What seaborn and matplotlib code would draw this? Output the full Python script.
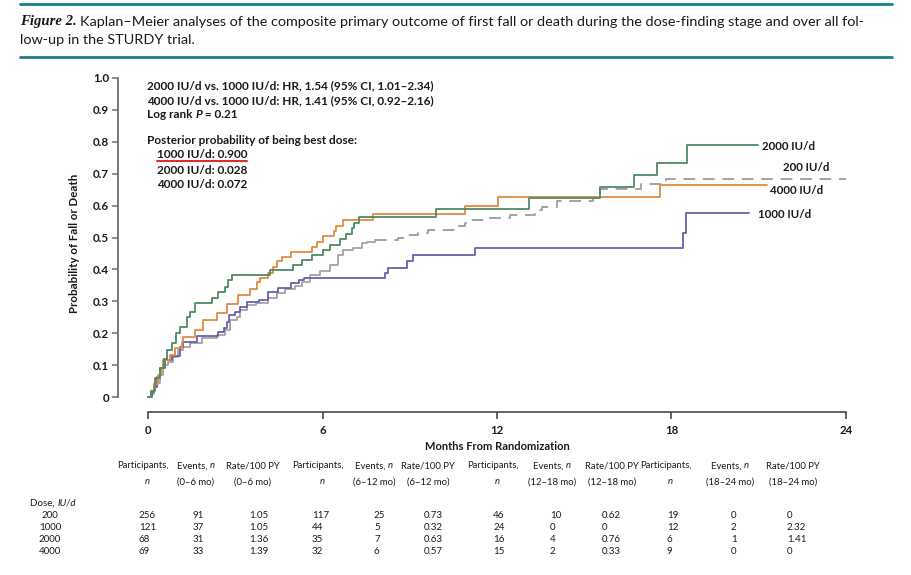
import matplotlib
matplotlib.use("Agg")
import matplotlib.pyplot as plt
from matplotlib import font_manager as fm
import seaborn as sns
import pandas as pd

# ---------------- data ----------------
t_200 = [0, 0.1, 0.2, 0.3, 0.4, 0.52, 0.7, 0.86, 1.03, 1.2, 1.45, 1.86, 2.37, 2.65, 2.82, 3.06,
         3.17, 3.4, 3.7, 4.13, 4.44, 4.7, 5.06, 5.3, 5.57, 5.9, 6.26, 6.54, 6.7, 7.05, 7.36, 7.54,
         7.8, 8.6, 8.95, 9.3, 9.64, 10.63, 10.9, 11.08, 11.67, 12.46, 13.3, 13.56, 14.07, 15.3,
         15.45, 15.55, 16.95, 17.8, 24.0]
p_200 = [0, 0.01, 0.03, 0.044, 0.07, 0.1, 0.11, 0.125, 0.147, 0.157, 0.17, 0.185, 0.194, 0.21,
         0.241, 0.251, 0.273, 0.288, 0.295, 0.31, 0.326, 0.339, 0.348, 0.36, 0.382, 0.395, 0.414,
         0.445, 0.461, 0.467, 0.483, 0.486, 0.492, 0.498, 0.508, 0.514, 0.523, 0.536, 0.545, 0.555,
         0.561, 0.571, 0.586, 0.596, 0.614, 0.627, 0.64, 0.652, 0.668, 0.683, 0.683]

t_1000 = [0, 0.15, 0.2, 0.3, 0.42, 0.6, 0.82, 1.1, 1.2, 1.68, 2.4, 2.6, 2.7, 2.8, 3.0, 3.17, 3.4,
          3.8, 4.13, 4.47, 4.9, 5.2, 5.35, 8.16, 8.26, 8.9, 9.1, 11.25, 18.4, 18.5, 20.65]
p_1000 = [0, 0.015, 0.03, 0.063, 0.09, 0.116, 0.128, 0.157, 0.172, 0.19, 0.204, 0.216, 0.235,
          0.257, 0.266, 0.282, 0.298, 0.304, 0.33, 0.341, 0.357, 0.367, 0.373, 0.389, 0.404, 0.426,
          0.445, 0.467, 0.514, 0.577, 0.577]

t_2000 = [0, 0.1, 0.24, 0.4, 0.55, 0.65, 0.83, 0.95, 1.1, 1.34, 1.45, 1.62, 2.2, 2.4, 2.65, 2.75,
          2.9, 4.2, 5.0, 5.3, 5.65, 6.0, 6.26, 6.6, 6.8, 7.0, 7.1, 7.27, 9.9, 13.1, 15.55, 16.7,
          17.5, 18.55, 20.96]
p_2000 = [0, 0.02, 0.06, 0.09, 0.12, 0.147, 0.169, 0.2, 0.22, 0.25, 0.267, 0.295, 0.31, 0.33,
          0.345, 0.367, 0.383, 0.398, 0.414, 0.43, 0.445, 0.46, 0.476, 0.495, 0.51, 0.53, 0.545,
          0.564, 0.589, 0.625, 0.658, 0.696, 0.733, 0.79, 0.79]

t_4000 = [0, 0.1, 0.2, 0.35, 0.45, 0.52, 0.76, 0.93, 1.17, 1.2, 1.62, 1.9, 2.37, 2.7, 3.1, 3.5,
          3.75, 3.85, 4.13, 4.3, 4.45, 4.6, 4.9, 5.65, 5.8, 6.0, 6.4, 6.45, 6.7, 7.75, 10.9, 12.05,
          17.6, 21.3]
p_4000 = [0, 0.02, 0.04, 0.069, 0.09, 0.116, 0.132, 0.153, 0.172, 0.188, 0.21, 0.241, 0.263, 0.29,
          0.32, 0.34, 0.36, 0.373, 0.389, 0.408, 0.426, 0.44, 0.455, 0.47, 0.486, 0.505, 0.52,
          0.536, 0.555, 0.574, 0.6, 0.627, 0.665, 0.665]

x_ticks = [0, 6, 12, 18, 24]
y_ticks = [0, 0.1, 0.2, 0.3, 0.4, 0.5, 0.6, 0.7, 0.8, 0.9, 1.0]
y_tick_labels = ["0", "0.1", "0.2", "0.3", "0.4", "0.5", "0.6", "0.7", "0.8", "0.9", "1.0"]

doses = ["200", "1000", "2000", "4000"]
participants_0_6 = ["256", "121", "68", "69"]
events_0_6 = ["91", "37", "31", "33"]
rate_0_6 = ["1.05", "1.05", "1.36", "1.39"]
participants_6_12 = ["117", "44", "35", "32"]
events_6_12 = ["25", "5", "7", "6"]
rate_6_12 = ["0.73", "0.32", "0.63", "0.57"]
participants_12_18 = ["46", "24", "16", "15"]
events_12_18 = ["10", "0", "4", "2"]
rate_12_18 = ["0.62", "0", "0.76", "0.33"]
participants_18_24 = ["19", "12", "6", "9"]
events_18_24 = ["0", "2", "1", "0"]
rate_18_24 = ["0", "2.32", "1.41", "0"]

# ---------------- style ----------------
sns.set_theme(style="ticks")
names = {f.name for f in fm.fontManager.ttflist}
MAIN = "Lato" if "Lato" in names else "DejaVu Sans"
COND = "Liberation Sans Narrow" if "Liberation Sans Narrow" in names else MAIN
plt.rcParams["font.family"] = [MAIN, "DejaVu Sans"]
WT = "bold"

W, H = 912, 575
def fx(px):
    return px / W
def fy(py):
    return 1 - py / H

GREEN = "#4f8a64"
ORANGE = "#e08b3e"
PURPLE = "#6a5fae"
GRAY = "#a3a3a3"
TEAL = "#1b7f88"
TXT = "#1a1a1a"

fig = plt.figure(figsize=(W / 100, H / 100), dpi=100)
renderer = fig.canvas.get_renderer()
ax = fig.add_axes([fx(148), fy(397), 698 / W, 319 / H])


def rich(px, py, parts, ha="left", **kw):
    """Draw consecutive text pieces (string, extra-style) starting/centred at pixel px."""
    arts = []
    for s, st in parts:
        a = fig.text(0, fy(py), s, va="center", ha="left", **{**kw, **st})
        arts.append(a)
    widths = [a.get_window_extent(renderer=renderer).width for a in arts]
    total = sum(widths)
    x = px - total / 2 if ha == "center" else px
    for a, w in zip(arts, widths):
        a.set_x(x / W)
        x += w
    return arts


def km(t, p):
    return pd.DataFrame({"t": t, "p": p})

common = dict(x="t", y="p", drawstyle="steps-post", estimator=None, sort=False,
              legend=False, ax=ax, clip_on=False)

d200 = km(t_200, p_200)
split = 32
sns.lineplot(data=d200.iloc[:split + 1], color=GRAY, lw=1.3, **common)
sns.lineplot(data=d200.iloc[split:], color=GRAY, lw=1.4, linestyle=(0, (6, 4)), **common)
sns.lineplot(data=km(t_1000, p_1000), color=PURPLE, lw=1.3, **common)
sns.lineplot(data=km(t_4000, p_4000), color=ORANGE, lw=1.3, **common)
sns.lineplot(data=km(t_2000, p_2000), color=GREEN, lw=1.3, **common)

ax.set_xlim(0, 24)
ax.set_ylim(0, 1)
ax.set_xticks(x_ticks)
ax.set_xticklabels([str(v) for v in x_ticks])
ax.set_yticks(y_ticks)
ax.set_yticklabels(y_tick_labels)
for s in ["top", "right"]:
    ax.spines[s].set_visible(False)
ax.spines["left"].set_position(("outward", 30 * 0.72))
ax.spines["bottom"].set_position(("outward", 15 * 0.72))
ax.spines["left"].set_color("#6e6e6e")
ax.spines["bottom"].set_color("#3a3a3a")
ax.spines["left"].set_linewidth(1.3)
ax.spines["bottom"].set_linewidth(1.1)
ax.tick_params(axis="y", length=4, width=1.1, color="#6e6e6e", pad=2.5, labelsize=8.4,
               labelcolor=TXT)
ax.tick_params(axis="x", length=5, width=1.1, color="#3a3a3a", pad=4, labelsize=8.2,
               labelcolor=TXT)
for lab in ax.get_xticklabels() + ax.get_yticklabels():
    lab.set_fontweight(WT)
ax.set_xlabel("")
ax.set_ylabel("")
ax.set_facecolor("none")

fig.text(fx(75), fy(243), "Probability of Fall or Death", rotation=90, ha="center",
         va="center", fontsize=8.3, fontweight=WT, color=TXT)
fig.text(fx(497), fy(446), "Months From Randomization", ha="center", va="center",
         fontsize=8.0, fontweight=WT, color=TXT)

# curve labels
lab = dict(fontsize=8.3, fontweight=WT, va="center", color=TXT)
ax.text(21.1, 0.784, "2000 IU/d", **lab)
ax.text(21.82, 0.718, "200 IU/d", **lab)
ax.text(21.4, 0.646, "4000 IU/d", **lab)
ax.text(20.99, 0.571, "1000 IU/d", **lab)

# annotations
ann = dict(fontsize=8.45, fontweight=WT, va="center", color=TXT)
fig.text(fx(147), fy(86), "2000 IU/d vs. 1000 IU/d: HR, 1.54 (95% CI, 1.01\u20132.34)", **ann)
fig.text(fx(147), fy(101), "4000 IU/d vs. 1000 IU/d: HR, 1.41 (95% CI, 0.92\u20132.16)", **ann)
rich(147, 115, [("Log rank ", {}), ("P", {"style": "italic"}), (" = 0.21", {})],
     fontsize=8.45, fontweight=WT, color=TXT)
fig.text(fx(147), fy(141), "Posterior probability of being best dose:", **ann)
t1000 = fig.text(fx(157), fy(155), "1000 IU/d: 0.900", **ann)
fig.text(fx(157), fy(170), "2000 IU/d: 0.028", **ann)
fig.text(fx(157), fy(184), "4000 IU/d: 0.072", **ann)
bb = t1000.get_window_extent(renderer=renderer)
fig.add_artist(plt.Line2D([bb.x0 / W, bb.x1 / W], [fy(160.5), fy(160.5)], color="#e3262b",
                          lw=1.4, transform=fig.transFigure))

# title and rules
fig.add_artist(plt.Line2D([fx(20), fx(892)], [fy(4), fy(4)], color=TEAL, lw=2.0,
                          transform=fig.transFigure))
fig.add_artist(plt.Line2D([fx(20), fx(892)], [fy(57), fy(57)], color=TEAL, lw=2.0,
                          transform=fig.transFigure))
tf = fig.text(fx(20), fy(22), "Figure 2.", fontsize=10.6, family=["Liberation Serif", "DejaVu Serif"],
              fontweight="bold", style="italic", va="center", color=TXT)
bb = tf.get_window_extent(renderer=renderer)
fig.text(bb.x1 / W + 3 / W, fy(22),
         "Kaplan\u2013Meier analyses of the composite primary outcome of first fall or death during "
         "the dose-finding stage and over all fol-", fontsize=10.4, va="center", color=TXT,
         family=[MAIN, "DejaVu Sans"])
fig.text(fx(20), fy(40), "low-up in the STURDY trial.", fontsize=10.4, va="center", color=TXT,
         family=[MAIN, "DejaVu Sans"])

# table
tfont = dict(fontsize=6.8, color=TXT, family=[COND, "DejaVu Sans"])
hx = [143, 196, 253, 318, 374, 428, 493, 552, 612, 666, 730, 793]
periods = ["0\u20136", "6\u201312", "12\u201318", "18\u201324"]
for i, per in enumerate(periods):
    fig.text(fx(hx[3 * i]), fy(466), "Participants,", ha="center", va="center", **tfont)
    fig.text(fx(hx[3 * i] + 4), fy(482), "n", style="italic", ha="center", va="center", **tfont)
    rich(hx[3 * i + 1], 466, [("Events, ", {}), ("n", {"style": "italic"})], ha="center", **tfont)
    fig.text(fx(hx[3 * i + 1]), fy(482), f"({per} mo)", ha="center", va="center", **tfont)
    fig.text(fx(hx[3 * i + 2]), fy(466), "Rate/100 PY", ha="center", va="center", **tfont)
    fig.text(fx(hx[3 * i + 2]), fy(482), f"({per} mo)", ha="center", va="center", **tfont)

cfont = dict(fontsize=7.0, color=TXT, family=[COND, "DejaVu Sans"])
rich(30, 503, [("Dose, ", {}), ("IU/d", {"style": "italic"})], **cfont)
cols = [participants_0_6, events_0_6, rate_0_6, participants_6_12, events_6_12, rate_6_12,
        participants_12_18, events_12_18, rate_12_18, participants_18_24, events_18_24, rate_18_24]
dx = [139, 193, 249, 312, 374, 424, 493, 550, 602, 667, 731, 787]
row_y = [515, 527, 539, 551]
for r, d in enumerate(doses):
    fig.text(fx(50), fy(row_y[r]), d, ha="center", va="center", **cfont)
    for c, col in enumerate(cols):
        fig.text(fx(dx[c]), fy(row_y[r]), col[r], ha="left", va="center", **cfont)

fig.savefig("out.png", dpi=100)
